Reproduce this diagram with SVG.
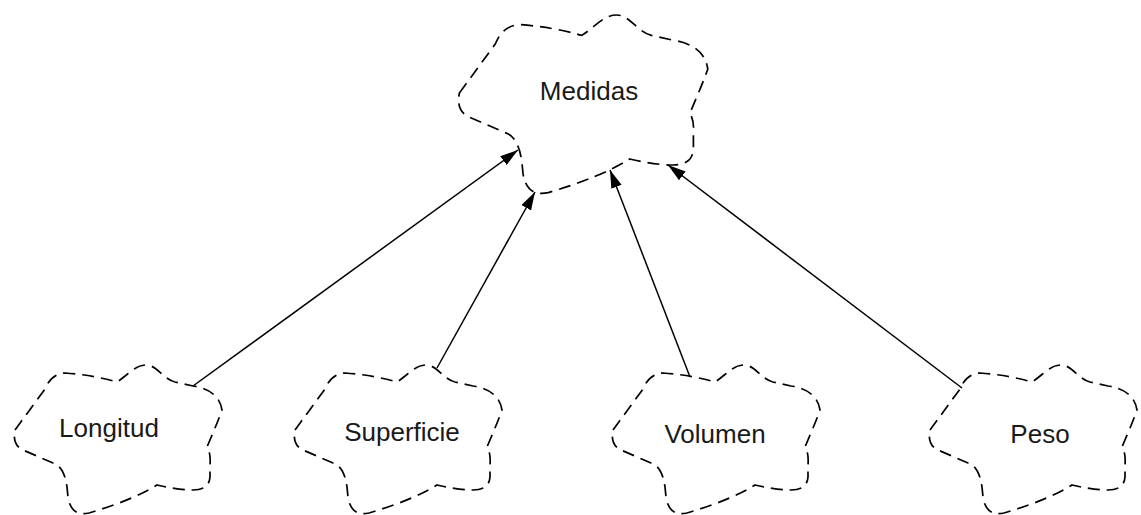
<svg xmlns="http://www.w3.org/2000/svg" xmlns:xlink="http://www.w3.org/1999/xlink" width="1141" height="515" viewBox="0 0 1141 515">
<style>
.cloud{fill:#fff;stroke:#000;stroke-width:1.7;stroke-dasharray:12 7}
.lbl{font-family:"Liberation Sans",Arial,sans-serif;font-size:26px;fill:#1a1a1a;text-anchor:middle}
.edge{stroke:#000;stroke-width:1.5;fill:none;marker-end:url(#arr)}
</style>
<defs>
<marker id="arr" markerUnits="userSpaceOnUse" markerWidth="19" markerHeight="12" refX="18" refY="6" orient="auto" viewBox="0 0 19 12">
<path d="M0,0.5 L18,6 L0,11.5 z" fill="#000"/>
</marker>
<path id="small" d="M 2,65 L 32,24 Q 38,9 52,8 Q 80,10 104,17 C 115,10 122,0 133,0 C 144,0 150,14 162,17 L 180,21 Q 206,25 209,45 Q 206,54 194,82 Q 198,88 197,100 L 197,112 Q 196,125 180,125 Q 165,125 144,120 Q 120,135 76,148 Q 58,152 55,132 L 54,122 Q 51,101 40,98 L 10,85 Q -1,80 2,65 Z"/>
</defs>
<g id="medidas">
<path class="cloud" d="M 459.4,93 L 495.4,43.8 Q 502.6,25.8 519.4,24.6 Q 553,27 581.8,35.4 C 595,27 603.4,15 616.6,15 C 629.8,15 637,31.8 651.4,35.4 L 673,40.2 Q 704.2,45 707.8,69 Q 704.2,79.8 689.8,113.4 Q 694.6,120.6 693.4,135 L 693.4,149.4 Q 692.2,165 673,165 Q 655,165 629.8,159 Q 601,177 548.2,192.6 Q 526.6,197.4 523,173.4 L 521.8,161.4 Q 518.2,136.2 505,132.6 L 469,117 Q 455.8,111 459.4,93 Z"/>
<text class="lbl" x="589" y="100">Medidas</text>
</g>
<g id="longitud">
<use xlink:href="#small" class="cloud" transform="translate(13,365)"/>
<text class="lbl" x="109" y="437">Longitud</text>
</g>
<g id="superficie">
<use xlink:href="#small" class="cloud" transform="translate(293,365)"/>
<text class="lbl" x="402" y="441">Superficie</text>
</g>
<g id="volumen">
<use xlink:href="#small" class="cloud" transform="translate(611,365)"/>
<text class="lbl" x="715" y="443">Volumen</text>
</g>
<g id="peso">
<use xlink:href="#small" class="cloud" transform="translate(928,365)"/>
<text class="lbl" x="1040" y="443">Peso</text>
</g>
<g id="connectors">
<line class="edge" x1="193" y1="386" x2="518" y2="150"/>
<line class="edge" x1="437" y1="368" x2="535" y2="192"/>
<line class="edge" x1="690" y1="377" x2="610" y2="170"/>
<line class="edge" x1="962" y1="388" x2="668" y2="165"/>
</g>
</svg>
